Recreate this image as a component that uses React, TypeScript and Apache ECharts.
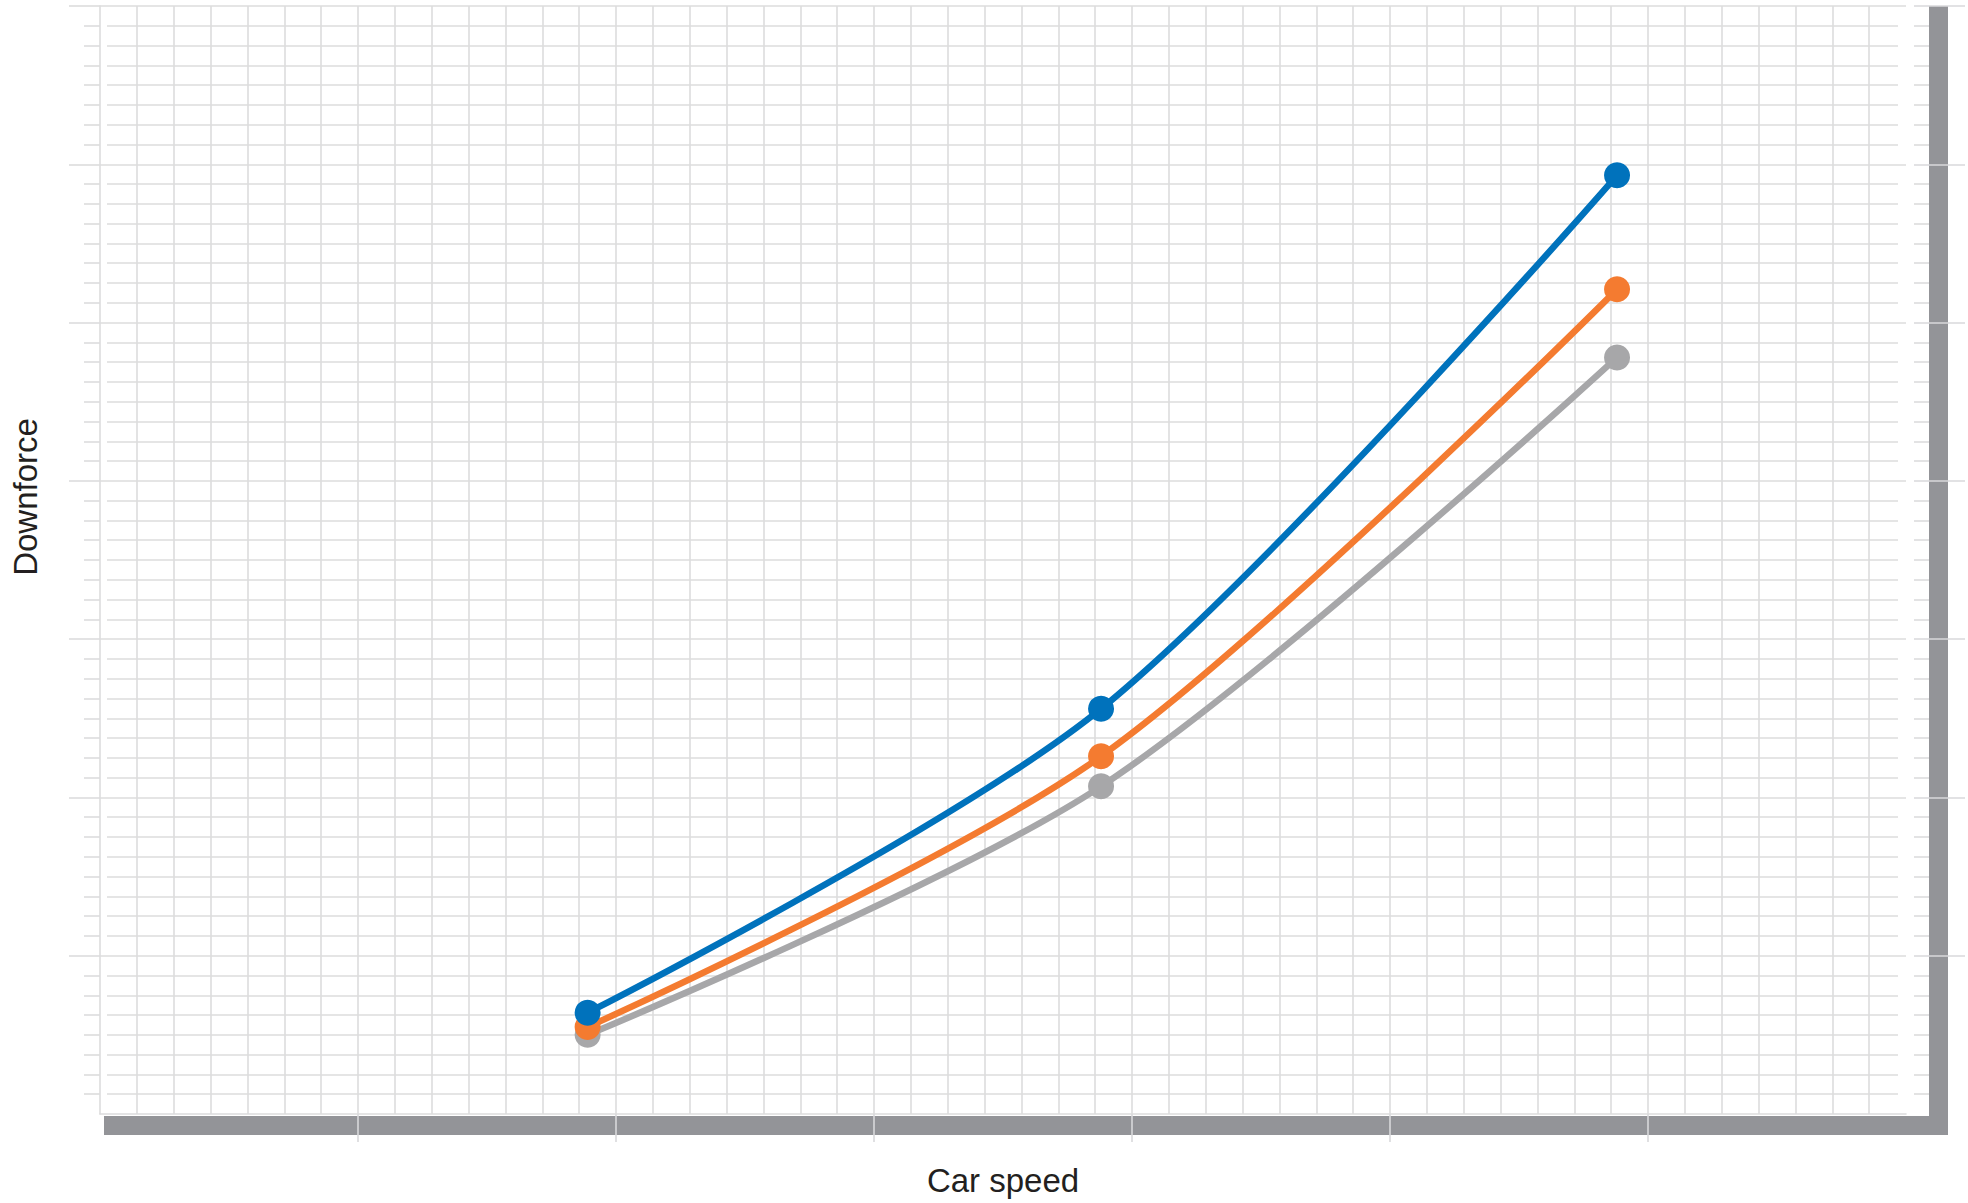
import { useEffect, useRef } from "react";
import * as echarts from "echarts";

// ---- data ----
const speedValues = [1.89, 3.88, 5.88];
const seriesNames = ["Series A", "Series B", "Series C"];
const blueValues = [0.64, 2.56, 5.93];
const orangeValues = [0.55, 2.26, 5.21];
const grayValues = [0.5, 2.07, 4.78];
const xTickValues = [1, 2, 3, 4, 5, 6];
const yTickValues = [1, 2, 3, 4, 5, 6, 7];
const xAxisTitle = "Car speed";
const yAxisTitle = "Downforce";

// ---- layout ----
const W = 1968;
const H = 1203;
const G_LEFT = 100;
const G_RIGHT = 62;
const G_TOP = 6;
const G_BOTTOM = 89;

const GRID_COLOR = "#dcdcdd";
const BAR_COLOR = "#939498";
const TEXT_COLOR = "#231f20";
const FONT = "'Liberation Sans', Arial, Helvetica, sans-serif";

const pairs = (ys: number[]) => speedValues.map((x, i) => [x, ys[i]]);

export default function App() {
  const ref = useRef<HTMLDivElement>(null);
  useEffect(() => {
    if (!ref.current) return;
    const chart = echarts.init(ref.current, null, { renderer: "svg", width: W, height: H });
    const plotRight = W - G_RIGHT;
    const plotBottom = H - G_BOTTOM;
    const lineStyle = { color: GRID_COLOR, width: 1.6 };
    const mkSeries = (name: string, ys: number[], color: string, z: number) => ({
      name,
      type: "line",
      xAxisIndex: 0,
      yAxisIndex: 0,
      data: pairs(ys),
      smooth: 0.3,
      symbol: "circle",
      symbolSize: 26,
      showSymbol: true,
      z,
      itemStyle: { color },
      lineStyle: { color, width: 6.5, cap: "round", join: "round" },
      emphasis: { disabled: true },
    });
    chart.setOption({
      animation: false,
      backgroundColor: "#ffffff",
      grid: [
        { left: G_LEFT, right: G_RIGHT, top: G_TOP, bottom: G_BOTTOM },
        { left: G_LEFT + 7, right: G_RIGHT + 8, top: G_TOP, bottom: G_BOTTOM },
      ],
      xAxis: [
        {
          type: "value",
          gridIndex: 0,
          min: 0,
          max: 7,
          interval: 1,
          name: xAxisTitle,
          nameLocation: "middle",
          nameGap: 50,
          nameTextStyle: { fontFamily: FONT, fontSize: 33, color: TEXT_COLOR },
          axisLine: { show: true, lineStyle },
          axisTick: {
            show: true,
            length: 28,
            customValues: xTickValues,
            lineStyle: { color: "#d9d9db", width: 1.6 },
          },
          axisLabel: { show: false },
          splitLine: { show: true, lineStyle },
          minorTick: { show: false, splitNumber: 7 },
          minorSplitLine: { show: true, lineStyle },
        },
        { type: "value", gridIndex: 1, min: 0, max: 7, interval: 1, show: false },
      ],
      yAxis: [
        {
          type: "value",
          gridIndex: 0,
          min: 0,
          max: 7,
          interval: 1,
          name: yAxisTitle,
          nameLocation: "middle",
          nameGap: 58,
          nameRotate: 90,
          nameTextStyle: {
            fontFamily: FONT,
            fontSize: 33,
            color: TEXT_COLOR,
            padding: [0, 0, 0, 126],
          },
          axisLine: { show: true, lineStyle },
          axisTick: { show: true, length: 31, customValues: yTickValues, lineStyle },
          minorTick: { show: true, splitNumber: 8, length: 16, lineStyle },
          axisLabel: { show: false },
          splitLine: { show: true, lineStyle },
          minorSplitLine: { show: false },
        },
        {
          type: "value",
          gridIndex: 0,
          position: "right",
          offset: 8,
          min: 0,
          max: 7,
          interval: 1,
          axisLine: { show: false },
          axisTick: {
            show: true,
            length: 51,
            customValues: yTickValues,
            lineStyle: { color: "#d9d9db", width: 1.6 },
          },
          minorTick: { show: true, splitNumber: 8, length: 15, lineStyle },
          axisLabel: { show: false },
          splitLine: { show: false },
        },
        {
          type: "value",
          gridIndex: 1,
          min: 0,
          max: 7,
          interval: 1,
          axisLine: { show: false },
          axisTick: { show: false },
          axisLabel: { show: false },
          splitLine: { show: false },
          minorTick: { show: false, splitNumber: 8 },
          minorSplitLine: { show: true, lineStyle },
        },
      ],
      graphic: [
        {
          type: "rect",
          z: -1,
          silent: true,
          shape: { x: G_LEFT + 4, y: plotBottom + 2, width: plotRight + 42 - (G_LEFT + 4), height: 19 },
          style: { fill: BAR_COLOR },
        },
        {
          type: "rect",
          z: -1,
          silent: true,
          shape: { x: plotRight + 23, y: G_TOP, width: 19, height: plotBottom + 21 - G_TOP },
          style: { fill: BAR_COLOR },
        },
      ],
      series: [
        mkSeries(seriesNames[2], grayValues, "#a7a7a9", 3),
        mkSeries(seriesNames[1], orangeValues, "#f47b30", 4),
        mkSeries(seriesNames[0], blueValues, "#0072bc", 5),
      ],
    });
    return () => chart.dispose();
  }, []);
  return (
    <div
      ref={ref}
      style={{ position: "fixed", left: 0, top: 0, width: W, height: H, background: "#fff" }}
    />
  );
}
